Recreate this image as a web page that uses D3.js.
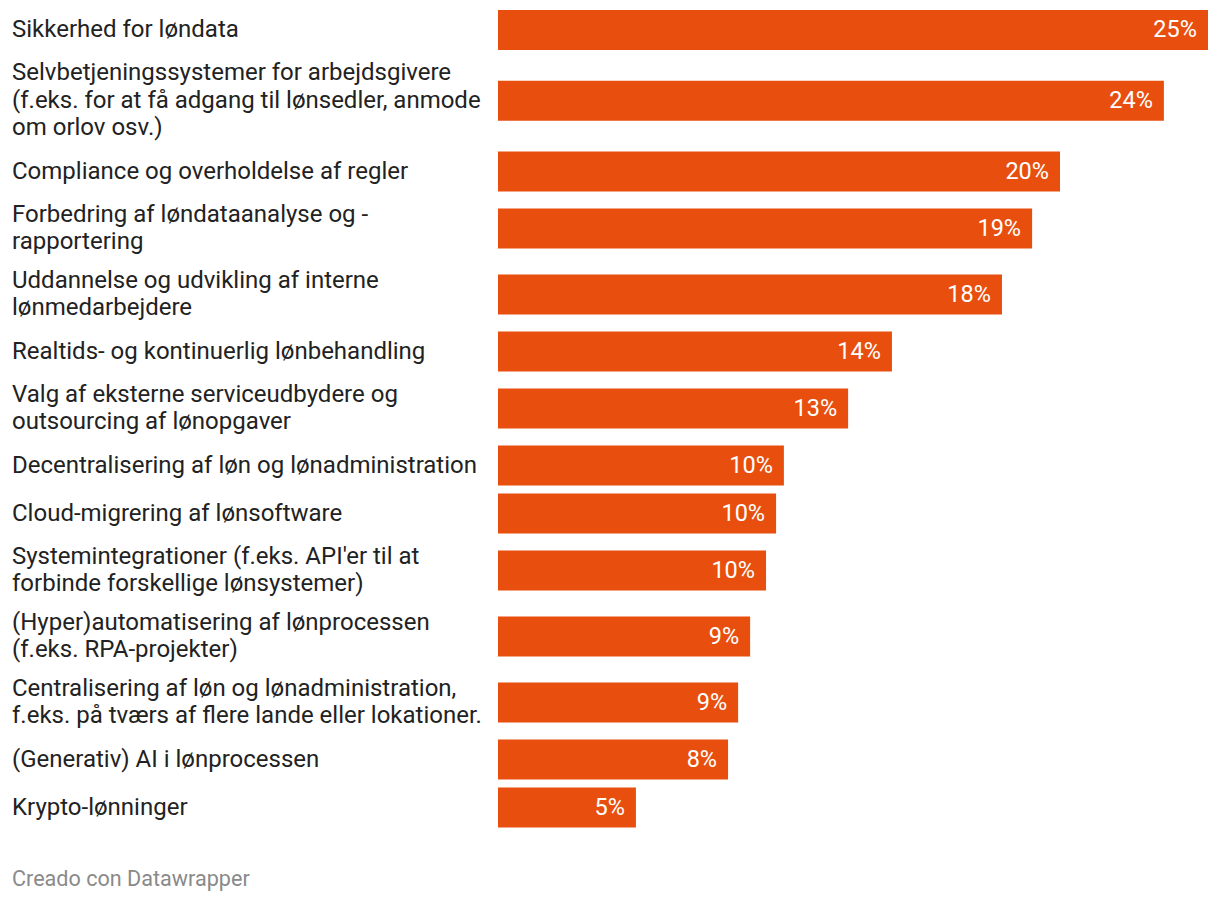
<!DOCTYPE html>
<html><head><meta charset="utf-8">
<script src="https://cdn.jsdelivr.net/npm/d3@7"></script>
<style>
body{margin:0;background:#fff}
svg{display:block}
text{font-family:Roboto, "Noto Sans", sans-serif}
</style>
</head><body>
<svg id="chart" width="1220" height="902"></svg>
<script>
const categories = [
  "Sikkerhed for løndata",
  "Selvbetjeningssystemer for arbejdsgivere\n(f.eks. for at få adgang til lønsedler, anmode\nom orlov osv.)",
  "Compliance og overholdelse af regler",
  "Forbedring af løndataanalyse og -\nrapportering",
  "Uddannelse og udvikling af interne\nlønmedarbejdere",
  "Realtids- og kontinuerlig lønbehandling",
  "Valg af eksterne serviceudbydere og\noutsourcing af lønopgaver",
  "Decentralisering af løn og lønadministration",
  "Cloud-migrering af lønsoftware",
  "Systemintegrationer (f.eks. API'er til at\nforbinde forskellige lønsystemer)",
  "(Hyper)automatisering af lønprocessen\n(f.eks. RPA-projekter)",
  "Centralisering af løn og lønadministration,\nf.eks. på tværs af flere lande eller lokationer.",
  "(Generativ) AI i lønprocessen",
  "Krypto-lønninger"
];
const values = [25.43, 23.85, 20.13, 19.13, 18.05, 14.11, 12.54, 10.24, 9.96, 9.60, 9.03, 8.60, 8.24, 4.94];
const footerText = "Creado con Datawrapper";

const fontSize = 24, valueFontSize = 23.5, lineH = 27.5, barH = 40, gap = 8, topY = 10;
const barColor = "#e84f0f";

const svg = d3.select("#chart");
const rows = categories.map((c, i) => ({label: c, lines: c.split("\n"), value: values[i]}));
let yy = topY;
rows.forEach(r => {
  r.h = Math.max(barH, r.lines.length * lineH + 3);
  r.c = yy + r.h / 2;
  yy += r.h + gap;
});

const x = d3.scaleLinear().domain([0, d3.max(values)]).range([498, 1208]);
const fmt = v => d3.format(".0f")(v) + "%";

const g = svg.selectAll("g.row").data(rows).join("g").attr("class", "row");

g.append("rect")
  .attr("x", x(0))
  .attr("y", d => d.c - barH / 2)
  .attr("width", d => x(d.value) - x(0))
  .attr("height", barH)
  .attr("fill", barColor);

g.append("text")
  .attr("x", d => x(d.value) - 11)
  .attr("y", d => d.c)
  .attr("dy", "0.31em")
  .attr("text-anchor", "end")
  .attr("fill", "#fff")
  .style("font-size", valueFontSize + "px")
  .text(d => fmt(d.value));

const lab = g.append("text")
  .attr("fill", "#222")
  .style("font-size", fontSize + "px");
lab.selectAll("tspan").data(d => d.lines.map((l, i) => ({l, i, n: d.lines.length, c: d.c})))
  .join("tspan")
  .attr("x", 12)
  .attr("y", t => t.c + (t.i - (t.n - 1) / 2) * lineH)
  .attr("dy", "0.3em")
  .text(t => t.l);

svg.append("text")
  .attr("x", 12)
  .attr("y", 886)
  .attr("fill", "#8a8a8a")
  .style("font-size", "21.6px")
  .text(footerText);
</script>
</body></html>
